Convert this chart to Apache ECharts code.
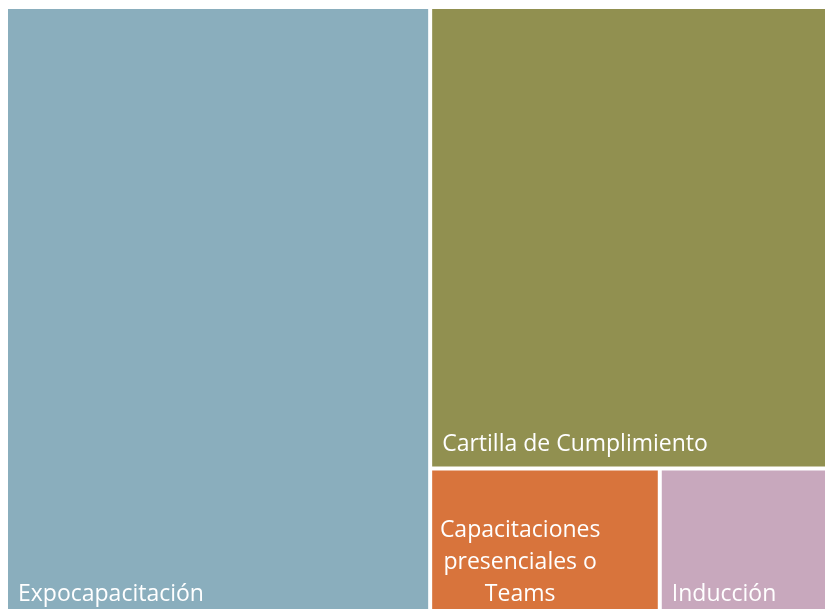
<!DOCTYPE html>
<html>
<head>
<meta charset="utf-8">
<script src="https://cdn.jsdelivr.net/npm/echarts@6/dist/echarts.min.js"></script>
<style>
  html, body { margin: 0; padding: 0; background: #fff; }
  #main { width: 825px; height: 609px; }
</style>
</head>
<body>
<div id="main"></div>
<script>
  var names = ['Expocapacitación', 'Cartilla de Cumplimiento', 'Capacitaciones presenciales o Teams', 'Inducción'];
  var labels = ['Expocapacitación', 'Cartilla de Cumplimiento', 'Capacitaciones\npresenciales o\nTeams', 'Inducción'];
  var values = [513, 367, 68, 51];
  var colors = ['#8AAEBD', '#919050', '#D8743C', '#C8A8BD'];

  var chart = echarts.init(document.getElementById('main'));

  var data = names.map(function (n, i) {
    var item = { name: n, value: values[i], itemStyle: { color: colors[i] } };
    if (i === 2) {
      // the wrapped label is centred on its own block
      item.label = { align: 'center', offset: [83, 0] };
    }
    return item;
  });

  var option = {
    backgroundColor: '#fff',
    series: [{
      type: 'treemap',
      left: 8,
      top: 9,
      width: 822,
      height: 607,
      roam: false,
      nodeClick: false,
      breadcrumb: { show: false },
      squareRatio: 1,
      itemStyle: { borderWidth: 0, gapWidth: 4, borderColor: '#fff' },
      label: {
        show: true,
        position: 'insideBottomLeft',
        distance: 0,
        padding: [0, 0, 6, 10],
        color: '#fff',
        fontSize: 23,
        lineHeight: 32,
        fontFamily: 'Open Sans',
        overflow: 'none',
        formatter: function (p) {
          var i = names.indexOf(p.name);
          return i < 0 ? p.name : labels[i];
        }
      },
      emphasis: { disabled: true },
      data: data
    }]
  };
  chart.setOption(option);
</script>
</body>
</html>
